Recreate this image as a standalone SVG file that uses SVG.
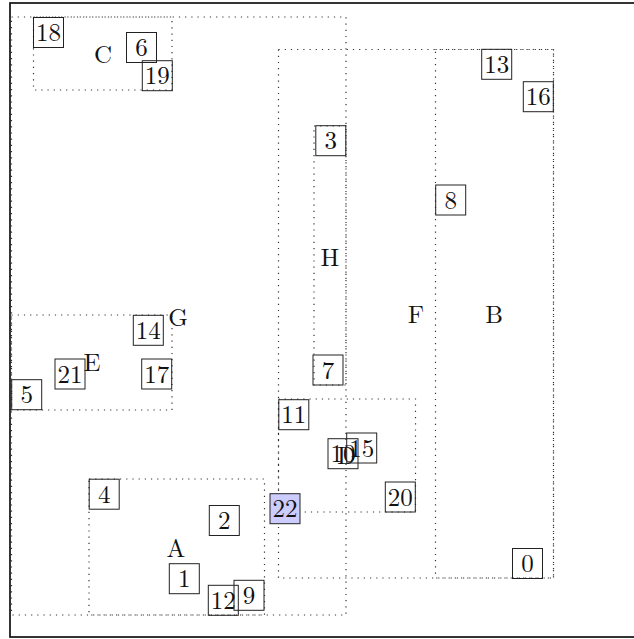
<svg xmlns="http://www.w3.org/2000/svg" width="634" height="639" viewBox="0 0 634 639">
<style>
.frame{fill:none;stroke:#111;stroke-width:1.7}
.cl{fill:none;stroke:#333;stroke-width:1.2;stroke-dasharray:1.2 5}
.nd rect{fill:none;stroke:#222;stroke-width:1}
.nd text,.lb{font-family:"Latin Modern Roman","Liberation Serif",serif;font-size:25px;fill:#111;text-anchor:middle}
#n22 rect{fill:#ccccff}
</style>
<rect width="634" height="639" fill="#fff"/>
<rect class="frame" x="10" y="3" width="640" height="634"/>
<g id="clusters">
<g id="G"><rect class="cl" x="11.5" y="17" width="334.5" height="598"/><text class="lb" x="178" y="326">G</text></g>
<g id="C"><rect class="cl" x="33.5" y="17" width="138.5" height="73"/><text class="lb" x="103" y="63">C</text></g>
<g id="E"><rect class="cl" x="11.5" y="315" width="160.5" height="95"/><text class="lb" x="92" y="371">E</text></g>
<g id="A"><rect class="cl" x="89" y="479" width="175.5" height="136"/><text class="lb" x="176" y="557">A</text></g>
<g id="F"><rect class="cl" x="278.5" y="49.5" width="275" height="528.5"/><text class="lb" x="416" y="323">F</text></g>
<g id="B"><rect class="cl" x="435.5" y="49.5" width="118" height="528.5"/><text class="lb" x="494" y="323">B</text></g>
<g id="H"><rect class="cl" x="314" y="126" width="32" height="259"/><text class="lb" x="330" y="266">H</text></g>
<g id="D"><rect class="cl" x="278.5" y="399" width="137" height="113"/><text class="lb" x="346.5" y="464">D</text></g>
</g>
<g id="connectors"/>
<g id="nodes">
<g class="nd" id="n0"><rect x="512.5" y="548.5" width="30" height="30"/><text x="527.5" y="572">0</text></g>
<g class="nd" id="n1"><rect x="169.3" y="563.7" width="30" height="30"/><text x="184.3" y="587.2">1</text></g>
<g class="nd" id="n2"><rect x="209.3" y="505.5" width="30" height="30"/><text x="224.3" y="529">2</text></g>
<g class="nd" id="n3"><rect x="315.8" y="125.7" width="30" height="30"/><text x="330.8" y="149.2">3</text></g>
<g class="nd" id="n4"><rect x="89.2" y="479.2" width="30" height="30"/><text x="104.2" y="502.7">4</text></g>
<g class="nd" id="n5"><rect x="11.7" y="379.7" width="30" height="30"/><text x="26.7" y="403.2">5</text></g>
<g class="nd" id="n6"><rect x="126.5" y="32.5" width="30" height="30"/><text x="141.5" y="56">6</text></g>
<g class="nd" id="n7"><rect x="313" y="355" width="30" height="30"/><text x="328" y="378.5">7</text></g>
<g class="nd" id="n8"><rect x="435.7" y="185" width="30" height="30"/><text x="450.7" y="208.5">8</text></g>
<g class="nd" id="n9"><rect x="234" y="580.3" width="30" height="30"/><text x="249" y="603.8">9</text></g>
<g class="nd" id="n10"><rect x="328" y="438.7" width="30" height="30"/><text x="343" y="462.2">10</text></g>
<g class="nd" id="n11"><rect x="278.8" y="399.7" width="30" height="30"/><text x="293.8" y="423.2">11</text></g>
<g class="nd" id="n12"><rect x="208.3" y="585.3" width="30" height="30"/><text x="223.3" y="608.8">12</text></g>
<g class="nd" id="n13"><rect x="481.7" y="49.3" width="30" height="30"/><text x="496.7" y="72.8">13</text></g>
<g class="nd" id="n14"><rect x="133.3" y="315.3" width="30" height="30"/><text x="148.3" y="338.8">14</text></g>
<g class="nd" id="n15"><rect x="346.7" y="433" width="30" height="30"/><text x="361.7" y="456.5">15</text></g>
<g class="nd" id="n16"><rect x="523.3" y="81.7" width="30" height="30"/><text x="538.3" y="105.2">16</text></g>
<g class="nd" id="n17"><rect x="141.7" y="359" width="30" height="30"/><text x="156.7" y="382.5">17</text></g>
<g class="nd" id="n18"><rect x="33.5" y="17.5" width="30" height="30"/><text x="48.5" y="41">18</text></g>
<g class="nd" id="n19"><rect x="142.3" y="60.7" width="30" height="30"/><text x="157.3" y="84.2">19</text></g>
<g class="nd" id="n20"><rect x="385.3" y="482" width="30" height="30"/><text x="400.3" y="505.5">20</text></g>
<g class="nd" id="n21"><rect x="55" y="359" width="30" height="30"/><text x="70" y="382.5">21</text></g>
<g class="nd" id="n22"><rect x="270" y="493.7" width="30" height="30"/><text x="285" y="517.2">22</text></g>
</g>
</svg>
